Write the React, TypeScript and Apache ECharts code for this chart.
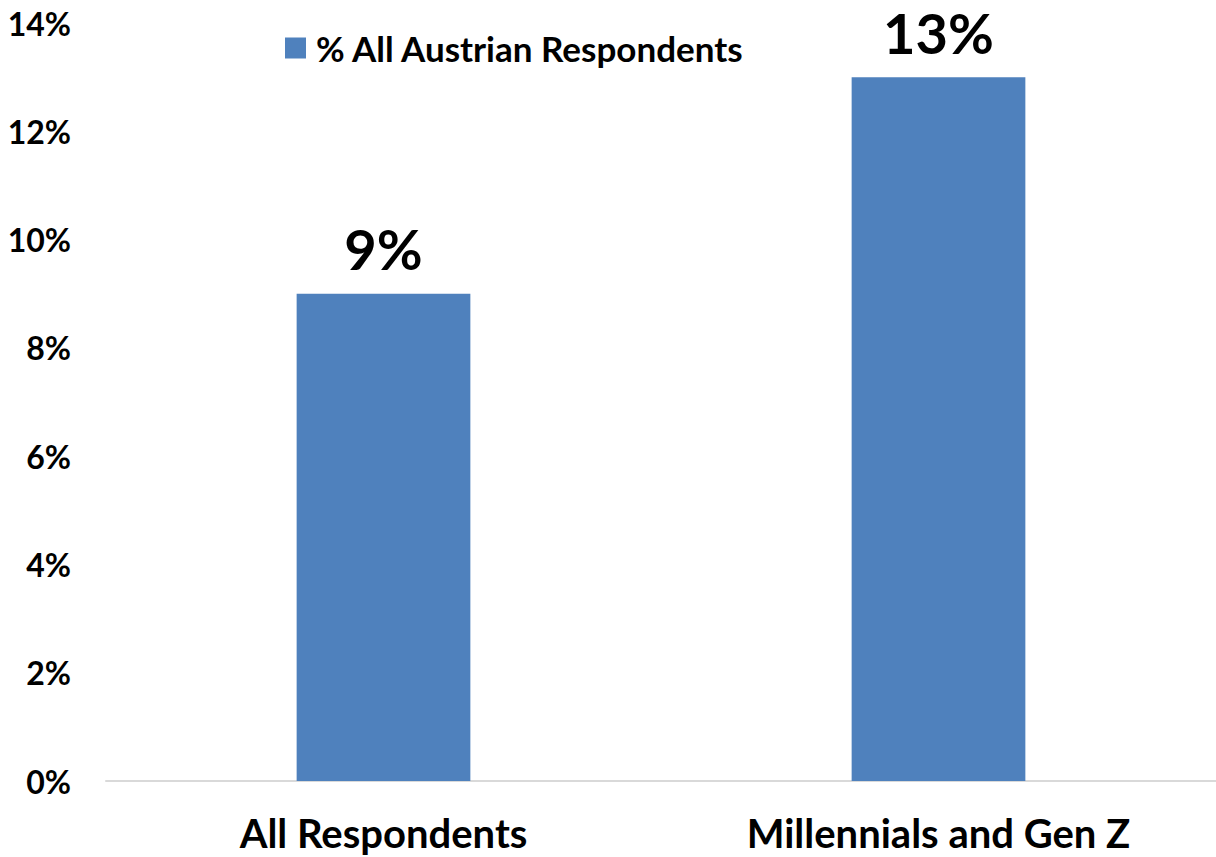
import React, { useEffect, useRef } from "react";
import * as echarts from "echarts";

const categories = ["All Respondents", "Millennials and Gen Z"];
const seriesName = "% All Austrian Respondents";
const values = [9, 13];
const yTicks = { min: 0, max: 14, interval: 2 };

const FONT = "Lato";

export default function App() {
  const ref = useRef<HTMLDivElement>(null);
  useEffect(() => {
    document.body.style.margin = "0";
    const chart = echarts.init(ref.current!, null, { renderer: "svg" });
    chart.setOption({
      animation: false,
      textStyle: { fontFamily: FONT },
      grid: { left: 106, right: 0, top: 23, bottom: 76, containLabel: false },
      legend: {
        show: true,
        left: 285,
        top: 28,
        padding: 0,
        itemWidth: 21,
        itemHeight: 21,
        icon: "rect",
        data: [seriesName],
        textStyle: {
          fontFamily: FONT,
          fontWeight: "bold",
          fontSize: 35,
          lineHeight: 40,
          color: "#000",
          padding: [0, 0, 0, 5],
        },
      },
      xAxis: {
        type: "category",
        data: categories,
        axisTick: { show: false },
        axisLine: { lineStyle: { color: "#D9D9D9", width: 2 } },
        axisLabel: {
          fontFamily: FONT,
          fontWeight: "bold",
          fontSize: 40,
          lineHeight: 40,
          color: "#000",
          margin: 32,
        },
      },
      yAxis: {
        type: "value",
        min: yTicks.min,
        max: yTicks.max,
        interval: yTicks.interval,
        splitLine: { show: false },
        axisLine: { show: false },
        axisTick: { show: false },
        axisLabel: {
          formatter: "{value}%",
          fontFamily: FONT,
          fontWeight: "bold",
          fontSize: 32,
          color: "#000",
          margin: 35,
        },
      },
      series: [
        {
          name: seriesName,
          type: "bar",
          data: values,
          barWidth: "31.3%",
          itemStyle: { color: "#4F81BD" },
          label: {
            show: true,
            position: "top",
            distance: 17,
            formatter: "{c}%",
            fontFamily: FONT,
            fontWeight: "bold",
            fontSize: 56,
            lineHeight: 56,
            color: "#000",
          },
        },
      ],
    });
    return () => chart.dispose();
  }, []);
  return <div ref={ref} style={{ width: 1216, height: 857 }} />;
}
